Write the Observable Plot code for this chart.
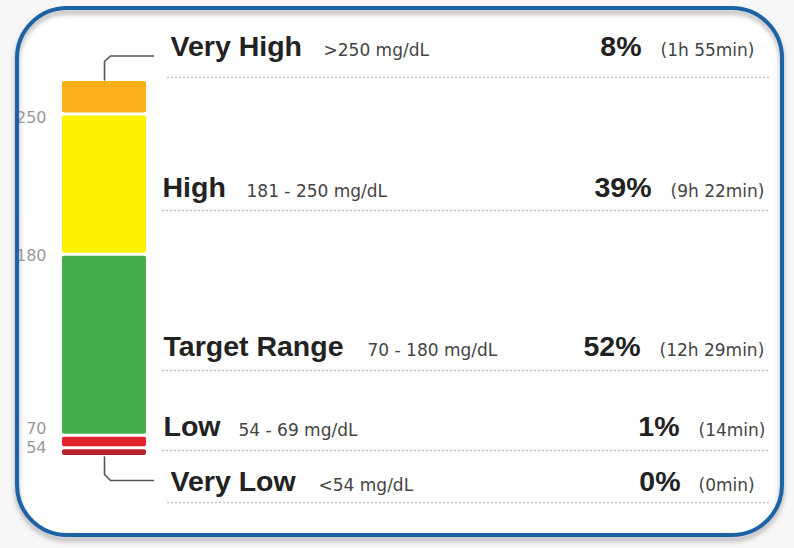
<!DOCTYPE html>
<html><head><meta charset="utf-8">
<script src="https://cdn.jsdelivr.net/npm/d3@7"></script>
<script src="https://cdn.jsdelivr.net/npm/@observablehq/plot@0.6"></script>
<style>html,body{margin:0;padding:0;background:#f7f7f7;} #chart svg{display:block}</style>
</head><body><div id="chart"></div>
<script>
// ---- data (bottom to top) ----
const levels = ["Very Low", "Low", "Target Range", "High", "Very High"];
const ranges = ["<54 mg/dL", "54 - 69 mg/dL", "70 - 180 mg/dL", "181 - 250 mg/dL", ">250 mg/dL"];
const percents = [0, 1, 52, 39, 8];
const durations = ["(0min)", "(14min)", "(12h 29min)", "(9h 22min)", "(1h 55min)"];
// segment sizes as drawn in the bar (small ranges are shown enlarged)
const barShare = [2.5, 3.5, 51.3, 39.7, 9.8];
const thresholds = [54, 70, 180, 250];
const colors = ["#b8202f", "#e2222a", "#45ad4b", "#fff200", "#fbb01a"];

// ---- layout ----
const W = 794, H = 548;
const barX1 = 62, barX2 = 146, barMid = 104;
const yBottom = 456.5, yTop = 79.5;
const labelX = [170, 163, 163, 162, 170];
const rangeX = [318, 238, 367, 246, 323];
const pctX = [680, 679, 640, 651, 641];
const durX = [698, 698, 659, 670, 660];
const baseline = [490, 435, 355, 196, 55];
const ruleGap = [12, 15, 15, 14, 22];
const ruleX1 = [167, 162, 162, 162, 167];
const tickDy = [0, -7, 1, 3];

const total = d3.sum(barShare);
const ends = d3.cumsum(barShare);
const toY = d3.scaleLinear([yBottom, yTop], [0, total]); // layout pixels -> y units

const bars = levels.map((l, i) => ({level: l, share: barShare[i], color: colors[i]}));
const rows = levels.map((l, i) => ({
  level: l, range: ranges[i], pct: percents[i] + "%", dur: durations[i],
  y: toY(baseline[i]), ry: toY(baseline[i] + ruleGap[i]),
  lx: labelX[i], rx: rangeX[i], px: pctX[i], dx: durX[i], r1: ruleX1[i]
}));

const bold = "Liberation Sans, Arial, sans-serif";
const small = "DejaVu Sans, Verdana, sans-serif";

const background = () => {
  const g = d3.create("svg:g");
  g.append("rect").attr("x", 17).attr("y", 8).attr("width", 765).attr("height", 527)
    .attr("rx", 50).attr("fill", "white");
  return g.node();
};
const border = () => {
  const g = d3.create("svg:g");
  const f = g.append("defs").append("filter").attr("id", "sh")
    .attr("x", "-5%").attr("y", "-5%").attr("width", "110%").attr("height", "115%");
  f.append("feDropShadow").attr("dx", 0).attr("dy", 4).attr("stdDeviation", 2.5)
    .attr("flood-color", "#777").attr("flood-opacity", 0.6);
  g.append("rect").attr("x", 17).attr("y", 8).attr("width", 765).attr("height", 527)
    .attr("rx", 50).attr("fill", "none").attr("stroke", "#1c63a6").attr("stroke-width", 4)
    .attr("filter", "url(#sh)");
  return g.node();
};

const connectors = [
  [{x: barMid, y: total}, {x: barMid, y: toY(61)}, {x: barMid + 6, y: toY(55.5)}, {x: 153, y: toY(55.5)}],
  [{x: barMid, y: 0}, {x: barMid, y: toY(474)}, {x: barMid + 6, y: toY(480)}, {x: 153, y: toY(480)}]
];

const chart = Plot.plot({
  width: W, height: H, margin: 0,
  style: {background: "#f7f7f7", overflow: "visible"},
  x: {type: "identity", axis: null},
  y: {domain: [0, total], range: [yBottom, yTop], axis: null},
  color: {type: "identity"},
  marks: [
    background,
    // dotted separators
    Plot.ruleY(rows, {y: "ry", x1: "r1", x2: 770, stroke: "#c4c4c4", strokeWidth: 1.5, strokeDasharray: "2,2"}),
    // stacked bar
    Plot.rectY(bars, {x1: barX1, x2: barX2, y: "share", fill: "color", insetTop: 1.5, insetBottom: 1.5, rx: 2}),
    // connectors
    ...connectors.map(c => Plot.line(c, {x: "x", y: "y", stroke: "#555", strokeWidth: 1.6, strokeLinejoin: "round"})),
    // threshold labels
    ...thresholds.map((t, i) => Plot.text([t], {x: 46, y: ends[i], dy: tickDy[i], text: d => String(d),
      textAnchor: "end", lineAnchor: "middle", fontFamily: small, fontSize: 16, fill: "#9a9a9a"})),
    // row labels
    Plot.text(rows, {x: "lx", y: "y", text: "level", textAnchor: "start", lineAnchor: "bottom",
      fontFamily: bold, fontWeight: "bold", fontSize: 28.5, fill: "#222"}),
    Plot.text(rows, {x: "rx", y: "y", text: "range", textAnchor: "start", lineAnchor: "bottom",
      fontFamily: small, fontSize: 17, fill: "#444"}),
    Plot.text(rows, {x: "px", y: "y", text: "pct", textAnchor: "end", lineAnchor: "bottom",
      fontFamily: bold, fontWeight: "bold", fontSize: 28.5, fill: "#222"}),
    Plot.text(rows, {x: "dx", y: "y", text: "dur", textAnchor: "start", lineAnchor: "bottom",
      fontFamily: small, fontSize: 17, fill: "#444"}),
    border
  ]
});
document.getElementById("chart").appendChild(chart);
</script></body></html>
